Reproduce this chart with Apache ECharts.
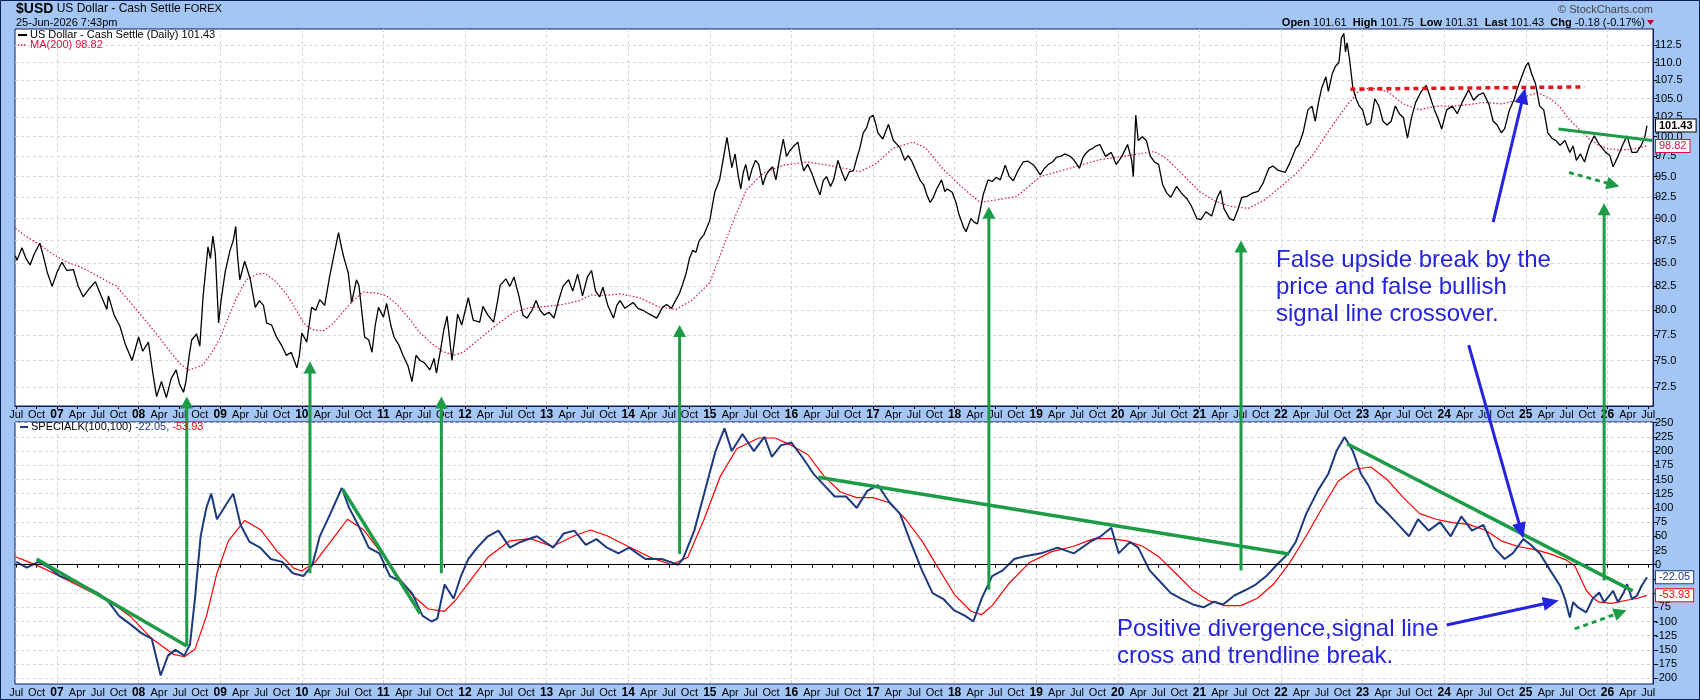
<!DOCTYPE html>
<html>
<head>
<meta charset="utf-8">
<script src="https://cdn.jsdelivr.net/npm/echarts@6/dist/echarts.min.js"></script>
<style>
html, body { margin: 0; padding: 0; background: #a3c6f5; }
#chart { width: 1700px; height: 700px; }
</style>
</head>
<body>
<div id="chart"></div>
<script>
// decimal year, value
const usdPrice = [
  [2006.49, 85.8], [2006.51, 85.3], [2006.57, 86.7], [2006.62, 85.5], [2006.67, 84.8], [2006.72, 86.0], [2006.79, 87.2],
  [2006.84, 85.5], [2006.88, 84.0], [2006.94, 82.5], [2007.00, 84.0], [2007.06, 85.1], [2007.12, 84.2], [2007.20, 84.3],
  [2007.26, 82.5], [2007.32, 81.4], [2007.40, 82.3], [2007.47, 83.0], [2007.54, 81.5], [2007.61, 80.1], [2007.63, 81.5],
  [2007.70, 79.5], [2007.77, 78.4], [2007.84, 76.5], [2007.92, 75.0], [2008.00, 77.3], [2008.05, 75.9], [2008.12, 76.8],
  [2008.17, 74.0], [2008.22, 71.6], [2008.28, 73.0], [2008.34, 71.5], [2008.40, 73.3], [2008.46, 74.1], [2008.50, 72.8],
  [2008.55, 72.0], [2008.58, 73.0], [2008.62, 75.5], [2008.65, 77.0], [2008.71, 77.6], [2008.75, 76.4], [2008.79, 81.4],
  [2008.85, 86.8], [2008.88, 85.5], [2008.91, 88.0], [2008.94, 86.0], [2008.98, 78.7], [2009.01, 81.0], [2009.06, 84.0],
  [2009.12, 86.4], [2009.16, 87.5], [2009.19, 89.1], [2009.21, 86.0], [2009.24, 83.2], [2009.30, 85.2], [2009.37, 83.2],
  [2009.43, 80.3], [2009.48, 81.0], [2009.53, 80.5], [2009.57, 78.7], [2009.63, 78.5], [2009.69, 77.3], [2009.75, 76.5],
  [2009.81, 75.5], [2009.87, 75.8], [2009.94, 74.3], [2009.97, 75.5], [2010.00, 77.7], [2010.06, 76.8], [2010.12, 80.3],
  [2010.17, 80.0], [2010.22, 81.1], [2010.28, 80.5], [2010.34, 83.5], [2010.39, 85.7], [2010.45, 88.4], [2010.48, 87.0],
  [2010.51, 85.8], [2010.57, 83.9], [2010.61, 80.8], [2010.67, 83.2], [2010.70, 82.6], [2010.74, 79.5], [2010.77, 77.3],
  [2010.82, 77.0], [2010.86, 75.8], [2010.90, 78.5], [2010.94, 80.3], [2011.00, 79.3], [2011.04, 80.7], [2011.09, 78.5],
  [2011.13, 77.3], [2011.19, 76.5], [2011.24, 75.5], [2011.30, 74.5], [2011.35, 73.0], [2011.40, 75.5], [2011.45, 75.0],
  [2011.50, 74.8], [2011.57, 74.1], [2011.62, 75.2], [2011.65, 73.8], [2011.70, 76.0], [2011.74, 78.0], [2011.78, 79.4],
  [2011.84, 75.0], [2011.88, 77.5], [2011.91, 79.6], [2011.96, 78.5], [2012.04, 81.3], [2012.10, 79.0], [2012.18, 78.8],
  [2012.22, 80.4], [2012.28, 79.5], [2012.35, 78.8], [2012.40, 81.0], [2012.43, 82.6], [2012.50, 83.3], [2012.55, 82.5],
  [2012.60, 83.5], [2012.66, 81.5], [2012.71, 79.5], [2012.76, 79.2], [2012.82, 80.0], [2012.87, 81.0], [2012.92, 80.0],
  [2012.97, 79.5], [2013.03, 79.8], [2013.09, 79.2], [2013.14, 80.8], [2013.20, 82.5], [2013.27, 83.2], [2013.32, 82.0],
  [2013.38, 83.8], [2013.44, 81.5], [2013.50, 83.5], [2013.55, 84.2], [2013.60, 82.0], [2013.65, 81.4], [2013.69, 82.4],
  [2013.75, 80.5], [2013.82, 79.2], [2013.86, 80.5], [2013.90, 81.0], [2013.96, 80.2], [2014.06, 80.8], [2014.12, 80.2],
  [2014.18, 80.0], [2014.26, 79.6], [2014.35, 79.2], [2014.42, 80.3], [2014.47, 80.6], [2014.53, 80.2], [2014.58, 81.0],
  [2014.63, 81.8], [2014.67, 82.8], [2014.71, 83.9], [2014.75, 85.5], [2014.79, 86.4], [2014.83, 86.2], [2014.87, 87.5],
  [2014.93, 88.2], [2015.00, 89.8], [2015.06, 93.1], [2015.12, 94.6], [2015.17, 97.5], [2015.21, 99.9], [2015.24, 98.0],
  [2015.27, 96.1], [2015.31, 97.8], [2015.35, 95.0], [2015.38, 93.5], [2015.41, 95.5], [2015.44, 96.5], [2015.48, 94.5],
  [2015.52, 96.0], [2015.56, 97.0], [2015.60, 96.5], [2015.65, 94.0], [2015.69, 95.2], [2015.73, 95.8], [2015.77, 96.2],
  [2015.81, 94.6], [2015.86, 97.5], [2015.90, 99.7], [2015.94, 97.5], [2015.98, 98.2], [2016.03, 98.8], [2016.08, 99.3],
  [2016.12, 97.0], [2016.15, 95.7], [2016.20, 96.5], [2016.25, 95.4], [2016.30, 94.0], [2016.35, 92.8], [2016.39, 94.5],
  [2016.43, 95.0], [2016.48, 93.8], [2016.52, 94.7], [2016.57, 97.0], [2016.62, 95.5], [2016.66, 94.5], [2016.71, 95.6],
  [2016.76, 95.7], [2016.80, 97.2], [2016.84, 98.6], [2016.88, 100.5], [2016.92, 101.1], [2016.96, 102.5], [2017.00, 102.8],
  [2017.03, 101.8], [2017.06, 100.5], [2017.12, 99.7], [2017.16, 100.8], [2017.19, 101.6], [2017.22, 100.5], [2017.25, 99.5],
  [2017.33, 98.6], [2017.39, 97.0], [2017.43, 97.6], [2017.47, 97.0], [2017.54, 95.4], [2017.58, 94.5], [2017.62, 94.0],
  [2017.66, 92.8], [2017.70, 91.9], [2017.74, 92.5], [2017.78, 93.5], [2017.84, 94.6], [2017.88, 93.2], [2017.91, 93.5],
  [2017.97, 93.1], [2018.02, 91.8], [2018.05, 90.6], [2018.11, 89.0], [2018.14, 88.5], [2018.20, 90.0], [2018.24, 89.6],
  [2018.28, 89.4], [2018.31, 90.8], [2018.35, 92.8], [2018.41, 94.6], [2018.46, 94.4], [2018.51, 94.9], [2018.56, 94.6],
  [2018.62, 96.4], [2018.67, 95.0], [2018.72, 94.5], [2018.78, 95.8], [2018.84, 96.8], [2018.90, 96.9], [2018.97, 96.4],
  [2019.05, 95.2], [2019.10, 96.0], [2019.15, 96.5], [2019.20, 96.8], [2019.25, 97.4], [2019.30, 97.5], [2019.35, 97.8],
  [2019.40, 97.6], [2019.45, 97.2], [2019.50, 96.5], [2019.53, 96.0], [2019.57, 97.3], [2019.61, 97.9], [2019.65, 98.3],
  [2019.69, 98.5], [2019.73, 98.8], [2019.78, 99.0], [2019.85, 97.5], [2019.92, 98.0], [2019.98, 96.5], [2020.05, 97.5],
  [2020.12, 99.0], [2020.17, 97.0], [2020.19, 95.0], [2020.22, 102.8], [2020.25, 99.5], [2020.30, 100.0], [2020.35, 99.5],
  [2020.40, 97.5], [2020.45, 96.8], [2020.50, 96.5], [2020.55, 94.0], [2020.60, 93.0], [2020.65, 92.5], [2020.72, 93.8],
  [2020.78, 93.0], [2020.85, 92.3], [2020.90, 91.5], [2020.97, 90.0], [2021.02, 89.9], [2021.08, 90.8], [2021.15, 90.3],
  [2021.22, 92.5], [2021.26, 93.3], [2021.30, 91.2], [2021.37, 90.0], [2021.42, 89.8], [2021.47, 91.0], [2021.52, 92.5],
  [2021.58, 92.6], [2021.65, 93.0], [2021.72, 93.2], [2021.78, 94.2], [2021.85, 96.0], [2021.90, 96.3], [2021.96, 95.8],
  [2022.05, 95.5], [2022.10, 96.5], [2022.18, 98.5], [2022.22, 99.0], [2022.27, 100.5], [2022.33, 103.5], [2022.38, 104.0],
  [2022.42, 102.0], [2022.46, 104.5], [2022.50, 106.5], [2022.55, 108.0], [2022.58, 106.0], [2022.63, 108.5], [2022.67, 109.5],
  [2022.71, 110.0], [2022.74, 113.5], [2022.77, 114.2], [2022.79, 111.5], [2022.81, 112.8], [2022.84, 110.5], [2022.88, 106.5],
  [2022.92, 105.0], [2022.96, 104.0], [2023.00, 103.5], [2023.05, 101.5], [2023.10, 101.8], [2023.15, 105.0], [2023.20, 104.0],
  [2023.25, 102.0], [2023.30, 101.5], [2023.35, 102.0], [2023.40, 104.0], [2023.45, 103.0], [2023.50, 102.5], [2023.55, 99.8],
  [2023.60, 102.5], [2023.65, 104.5], [2023.72, 106.0], [2023.78, 106.8], [2023.82, 105.5], [2023.88, 103.5], [2023.92, 102.5],
  [2023.97, 101.0], [2024.03, 103.5], [2024.10, 104.0], [2024.16, 103.0], [2024.22, 104.5], [2024.30, 106.2], [2024.36, 104.8],
  [2024.42, 105.5], [2024.48, 105.8], [2024.55, 104.2], [2024.60, 102.0], [2024.65, 101.5], [2024.70, 100.5], [2024.74, 101.0],
  [2024.80, 103.5], [2024.86, 105.0], [2024.90, 106.5], [2024.95, 108.0], [2025.00, 109.5], [2025.03, 110.0], [2025.07, 108.5],
  [2025.12, 107.0], [2025.17, 104.0], [2025.22, 103.5], [2025.27, 100.5], [2025.32, 99.8], [2025.37, 99.5], [2025.42, 98.9],
  [2025.48, 99.5], [2025.54, 98.0], [2025.58, 98.8], [2025.62, 97.0], [2025.67, 97.8], [2025.72, 96.8], [2025.78, 98.9],
  [2025.84, 100.1], [2025.90, 99.0], [2025.94, 98.5], [2025.98, 98.0], [2026.03, 97.6], [2026.07, 96.2], [2026.13, 97.5],
  [2026.19, 99.0], [2026.24, 100.1], [2026.30, 98.0], [2026.36, 98.0], [2026.42, 99.0], [2026.46, 100.0], [2026.485, 101.43]
];

const usdMa200 = [
  [2006.49, 88.9], [2006.60, 88.1], [2006.79, 87.0], [2006.95, 86.0], [2007.12, 85.1], [2007.28, 84.6], [2007.44, 83.9],
  [2007.60, 83.1], [2007.73, 82.5], [2007.88, 81.0], [2008.02, 79.6], [2008.14, 78.4], [2008.26, 77.2], [2008.40, 75.7],
  [2008.52, 74.6], [2008.61, 74.1], [2008.70, 74.3], [2008.79, 74.6], [2008.90, 75.8], [2009.00, 77.2], [2009.10, 79.3],
  [2009.20, 81.3], [2009.32, 83.2], [2009.45, 83.8], [2009.55, 83.9], [2009.68, 83.0], [2009.81, 81.7], [2009.92, 80.2],
  [2010.00, 79.0], [2010.06, 78.4], [2010.15, 78.0], [2010.26, 77.9], [2010.38, 78.6], [2010.51, 79.9], [2010.63, 81.0],
  [2010.75, 81.9], [2010.90, 81.8], [2011.04, 81.5], [2011.18, 80.5], [2011.33, 79.0], [2011.45, 77.7], [2011.57, 76.8],
  [2011.72, 75.9], [2011.86, 75.5], [2011.98, 75.8], [2012.10, 76.6], [2012.25, 77.6], [2012.43, 78.8], [2012.60, 79.8],
  [2012.80, 80.3], [2013.00, 80.4], [2013.20, 80.6], [2013.40, 81.0], [2013.55, 81.6], [2013.65, 81.5], [2013.78, 81.6],
  [2013.90, 81.7], [2014.14, 81.3], [2014.39, 80.3], [2014.59, 80.1], [2014.79, 81.1], [2015.00, 82.9], [2015.12, 85.7],
  [2015.29, 89.8], [2015.45, 93.4], [2015.65, 95.4], [2015.90, 96.4], [2016.19, 96.8], [2016.51, 96.3], [2016.84, 95.6],
  [2017.04, 96.6], [2017.24, 98.5], [2017.49, 99.3], [2017.64, 98.6], [2017.86, 95.9], [2018.07, 93.9], [2018.31, 91.9],
  [2018.52, 92.2], [2018.76, 92.6], [2019.05, 95.0], [2019.37, 95.9], [2019.78, 97.1], [2020.00, 97.4], [2020.25, 97.8],
  [2020.45, 98.1], [2020.60, 97.2], [2020.80, 95.2], [2021.00, 93.2], [2021.20, 92.0], [2021.40, 91.4], [2021.60, 91.2],
  [2021.80, 92.2], [2022.00, 93.8], [2022.20, 95.5], [2022.40, 97.8], [2022.60, 101.0], [2022.80, 104.0], [2022.95, 106.0],
  [2023.10, 106.5], [2023.30, 106.0], [2023.50, 104.3], [2023.70, 103.5], [2023.90, 104.0], [2024.10, 104.0], [2024.30, 104.2],
  [2024.50, 104.5], [2024.70, 104.3], [2024.90, 104.8], [2025.05, 105.5], [2025.15, 105.8], [2025.30, 105.0], [2025.42, 103.9],
  [2025.52, 102.4], [2025.64, 101.1], [2025.77, 99.8], [2025.88, 99.0], [2026.00, 98.5], [2026.15, 98.3], [2026.30, 98.4],
  [2026.485, 98.82]
];

const specialK = [
  [2006.50, 5], [2006.63, -5], [2006.77, 5], [2006.90, -5], [2007.03, -20], [2007.23, -30], [2007.50, -50], [2007.63, -65],
  [2007.76, -90], [2007.90, -105], [2008.03, -120], [2008.16, -130], [2008.27, -195], [2008.36, -160], [2008.45, -150],
  [2008.56, -160], [2008.63, -140], [2008.69, -60], [2008.76, 50], [2008.83, 100], [2008.89, 125], [2008.96, 80],
  [2009.09, 110], [2009.16, 125], [2009.25, 70], [2009.36, 40], [2009.49, 30], [2009.62, 10], [2009.76, 5], [2009.89, -15],
  [2010.02, -20], [2010.13, 0], [2010.22, 50], [2010.35, 90], [2010.49, 135], [2010.58, 100], [2010.69, 70], [2010.82, 30],
  [2010.95, 20], [2011.08, -20], [2011.22, -30], [2011.35, -50], [2011.48, -90], [2011.59, -100], [2011.66, -95],
  [2011.75, -35], [2011.86, -60], [2011.95, -20], [2012.04, 10], [2012.15, 30], [2012.28, 50], [2012.41, 60], [2012.55, 30],
  [2012.68, 40], [2012.88, 50], [2013.08, 30], [2013.21, 55], [2013.34, 60], [2013.48, 35], [2013.61, 45], [2013.74, 30],
  [2013.88, 20], [2014.01, 30], [2014.21, 10], [2014.41, 10], [2014.61, 0], [2014.67, 10], [2014.81, 60], [2014.94, 130],
  [2015.07, 200], [2015.18, 240], [2015.27, 200], [2015.40, 230], [2015.54, 200], [2015.67, 225], [2015.76, 190],
  [2015.87, 210], [2016.00, 215], [2016.13, 190], [2016.27, 160], [2016.40, 140], [2016.53, 120], [2016.67, 120],
  [2016.80, 100], [2016.93, 130], [2017.06, 140], [2017.20, 110], [2017.33, 90], [2017.46, 40], [2017.60, -10],
  [2017.73, -50], [2017.86, -60], [2017.99, -80], [2018.13, -90], [2018.23, -100], [2018.33, -60], [2018.46, -20],
  [2018.59, -10], [2018.73, 10], [2018.86, 15], [2019.06, 20], [2019.26, 30], [2019.46, 20], [2019.66, 40], [2019.79, 50],
  [2019.92, 65], [2020.01, 20], [2020.15, 40], [2020.25, 30], [2020.39, -10], [2020.52, -30], [2020.65, -50], [2020.78, -60],
  [2020.92, -70], [2021.05, -75], [2021.18, -65], [2021.29, -70], [2021.42, -55], [2021.56, -45], [2021.69, -35],
  [2021.82, -20], [2021.95, 0], [2022.09, 20], [2022.18, 40], [2022.31, 90], [2022.45, 130], [2022.58, 160], [2022.68, 200],
  [2022.78, 225], [2022.88, 200], [2022.98, 160], [2023.07, 140], [2023.17, 110], [2023.31, 90], [2023.44, 70], [2023.57, 50],
  [2023.68, 80], [2023.81, 60], [2023.95, 75], [2024.08, 50], [2024.21, 85], [2024.34, 60], [2024.48, 70], [2024.61, 30],
  [2024.74, 10], [2024.84, 20], [2024.97, 45], [2025.06, 35], [2025.17, 20], [2025.30, -10], [2025.42, -37], [2025.48, -60],
  [2025.54, -93], [2025.58, -66], [2025.64, -75], [2025.74, -84], [2025.82, -60], [2025.90, -49], [2025.96, -66],
  [2026.07, -46], [2026.13, -66], [2026.20, -49], [2026.24, -34], [2026.30, -60], [2026.36, -55], [2026.42, -37],
  [2026.485, -22.05]
];

const specialKSignal = [
  [2006.49, 14], [2006.65, 5], [2006.83, -6], [2007.00, -18], [2007.10, -25], [2007.36, -44], [2007.63, -63], [2007.90, -91],
  [2008.16, -130], [2008.43, -158], [2008.56, -162], [2008.69, -149], [2008.83, -91], [2008.96, -15], [2009.10, 42],
  [2009.30, 78], [2009.50, 61], [2009.70, 23], [2009.90, -6], [2010.00, -11], [2010.16, 4], [2010.36, 42], [2010.56, 80],
  [2010.76, 61], [2010.96, 23], [2011.15, -15], [2011.35, -53], [2011.55, -78], [2011.75, -82], [2011.88, -63],
  [2012.08, -25], [2012.28, 13], [2012.55, 42], [2012.80, 46], [2013.07, 32], [2013.34, 51], [2013.54, 61], [2013.74, 51],
  [2014.00, 32], [2014.27, 13], [2014.53, 0], [2014.73, 13], [2014.93, 80], [2015.13, 156], [2015.33, 204], [2015.60, 223],
  [2015.80, 223], [2016.00, 210], [2016.20, 194], [2016.40, 156], [2016.60, 128], [2016.80, 118], [2017.00, 118],
  [2017.20, 109], [2017.40, 80], [2017.60, 42], [2017.80, -6], [2018.00, -53], [2018.20, -82], [2018.33, -88],
  [2018.46, -72], [2018.66, -34], [2018.92, 4], [2019.19, 23], [2019.45, 32], [2019.71, 46], [2019.91, 46], [2020.11, 42],
  [2020.31, 32], [2020.51, 13], [2020.71, -15], [2020.91, -44], [2021.11, -63], [2021.31, -72], [2021.51, -72],
  [2021.71, -59], [2021.91, -34], [2022.11, 4], [2022.31, 51], [2022.50, 99], [2022.70, 147], [2022.90, 168], [2023.10, 172],
  [2023.30, 150], [2023.50, 118], [2023.70, 90], [2023.90, 80], [2024.10, 74], [2024.30, 71], [2024.50, 61], [2024.70, 42],
  [2024.90, 32], [2025.10, 27], [2025.30, 19], [2025.50, 8], [2025.60, -2], [2025.74, -45], [2025.82, -58], [2025.90, -66],
  [2026.05, -68], [2026.22, -63], [2026.37, -59], [2026.485, -53.93]
];

const priceTicks = [72.5, 75, 77.5, 80, 82.5, 85, 87.5, 90, 92.5, 95, 97.5, 100, 102.5, 105, 107.5, 110, 112.5];
const kTicks = [-200, -175, -150, -125, -100, -75, -50, -25, 0, 25, 50, 75, 100, 125, 150, 175, 200, 225, 250];
const kCoveredLabels = [-25, -50];
const quarterNames = ['', 'Apr', 'Jul', 'Oct'];
const header = { open: 101.61, high: 101.75, low: 101.31, last: 101.43, chg: -0.18, chgPct: -0.17 };

// annotations: [date, SpecialK value at foot, price at tip]
const upArrows = [
  [2008.59, -143, 71.6], [2010.10, -15, 74.9], [2011.71, -15, 71.6], [2014.63, 19, 78.5],
  [2018.42, -44, 91.4], [2021.51, -10, 87.5], [2025.96, -28, 91.8]
];
const kTrendLines = [
  [[2006.75, 10], [2008.59, -143]],
  [[2010.50, 133], [2011.45, -86]],
  [[2016.33, 154], [2022.10, 19]],
  [[2022.81, 213], [2026.31, -46]]
];
const kDottedArrow = [[2025.60, -113], [2026.16, -84]];
const kBlueArrow = [[2024.03, -106], [2025.31, -66]];
const priceResistance = [[2022.85, 106.3], [2025.72, 106.6]];
const priceTrendLine = [[2025.40, 101.0], [2026.55, 99.5]];
const priceDottedArrow = [[2025.53, 95.5], [2026.07, 94.0]];
const priceBlueArrow = [[2024.60, 89.6], [2024.97, 105.4]];
const crossBlueArrow = [[2024.30, 76.5], [2024.97, 46]]; // price panel -> SpecialK panel

const FONT = '"Liberation Sans", Arial, sans-serif';
const NAVY = '#0c1f5c';
const GREEN = '#1e9b47';
const BLUE = '#2323e0';
const KNAVY = '#1c3a7e';
const MARED = '#d8103f';

const quarterTicks = [];
for (let y = 2006; y <= 2026; y++) {
  for (let q = 0; q < 4; q++) {
    const t = y + q / 4;
    if (t >= 2006.5 && t <= 2026.5) quarterTicks.push(t);
  }
}
const yearTicks = quarterTicks.filter(t => t === Math.floor(t));

function quarterLabel(v) {
  const y = Math.floor(v + 1e-6);
  const q = Math.round((v - y) * 4);
  return q === 0 ? '{y|' + String(y).slice(2) + '}' : quarterNames[q];
}

const xMin = 2006.485, xMax = 2026.559;
const ln = v => Math.log(v);
const lnPair = ([t, v]) => [t, ln(v)];

function labelAxis(grid) {
  return {
    gridIndex: grid, type: 'value', min: xMin, max: xMax, position: 'bottom',
    axisLine: { show: true, lineStyle: { color: NAVY, width: 1 } },
    axisTick: { show: true, customValues: quarterTicks, length: 3, lineStyle: { color: '#000' } },
    axisLabel: {
      customValues: quarterTicks, formatter: quarterLabel, margin: 3,
      fontFamily: FONT, fontSize: 11, color: '#000',
      rich: { y: { fontFamily: FONT, fontSize: 12, fontWeight: 'bold', color: '#000' } }
    },
    splitLine: { show: false }
  };
}
function gridAxis(grid) {
  return {
    gridIndex: grid, type: 'value', min: xMin, max: xMax,
    axisLine: { show: false }, axisLabel: { show: false },
    axisTick: { show: false, customValues: yearTicks },
    splitLine: { show: true, lineStyle: { color: '#d4d4d4', type: [3, 3], width: 1 } }
  };
}

function seg(a, b, style, arrow, pairFn) {
  const f = pairFn || (p => p);
  const pa = f(a), pb = f(b);
  return [
    { coord: pa, lineStyle: style, symbol: 'none' },
    { coord: pb, symbol: arrow ? 'triangle' : 'none', symbolSize: arrow || 0 }
  ];
}

const lastPrice = usdPrice[usdPrice.length - 1][1];
const lastMa = usdMa200[usdMa200.length - 1][1];
const lastK = specialK[specialK.length - 1][1];
const lastSig = specialKSignal[specialKSignal.length - 1][1];

function boxLabel(text, color, bold) {
  return {
    show: true, formatter: () => text, distance: 9,
    fontFamily: FONT, fontSize: 11, fontWeight: bold ? 'bold' : 'normal', color: color,
    backgroundColor: '#fff', borderColor: color, borderWidth: 1, padding: [1, 3, 0, 3]
  };
}

const chart = echarts.init(document.getElementById('chart'));
chart.setOption({
  animation: false,
  backgroundColor: '#a3c6f5',
  grid: [
    { left: 15, right: 47, top: 29, height: 377, show: true, backgroundColor: '#fff', borderColor: NAVY, borderWidth: 1 },
    { left: 15, right: 47, top: 422, height: 262, show: true, backgroundColor: '#fff', borderColor: NAVY, borderWidth: 1 }
  ],
  xAxis: [labelAxis(0), gridAxis(0), labelAxis(1), gridAxis(1)],
  yAxis: [
    {
      gridIndex: 0, type: 'value', position: 'right', min: ln(70.74), max: ln(114.84),
      axisLine: { show: true, lineStyle: { color: NAVY } },
      axisTick: { show: true, customValues: priceTicks.map(ln), length: 4, lineStyle: { color: '#000' } },
      axisLabel: {
        customValues: priceTicks.map(ln), formatter: v => Math.exp(v).toFixed(1), margin: 2,
        fontFamily: FONT, fontSize: 11, color: '#000'
      },
      splitLine: { show: true, lineStyle: { color: '#d4d4d4', type: [3, 3] } }
    },
    {
      gridIndex: 1, type: 'value', position: 'right', min: -210, max: 251.2,
      axisLine: { show: true, lineStyle: { color: NAVY } },
      axisTick: { show: true, customValues: kTicks, length: 4, lineStyle: { color: '#000' } },
      axisLabel: {
        customValues: kTicks.filter(v => kCoveredLabels.indexOf(v) < 0), margin: 2,
        fontFamily: FONT, fontSize: 11, color: '#000'
      },
      splitLine: { show: true, lineStyle: { color: '#d4d4d4', type: [3, 3] } }
    }
  ],
  series: [
    {
      name: 'MA(200)', type: 'line', xAxisIndex: 0, yAxisIndex: 0, data: usdMa200.map(lnPair),
      showSymbol: false, symbol: 'none', z: 3,
      lineStyle: { color: MARED, width: 1.2, type: [1.5, 2] },
      endLabel: boxLabel(lastMa.toFixed(2), MARED, false)
    },
    {
      name: 'US Dollar', type: 'line', xAxisIndex: 0, yAxisIndex: 0, data: usdPrice.map(lnPair),
      showSymbol: false, symbol: 'none', z: 4,
      lineStyle: { color: '#000', width: 1.3 },
      endLabel: boxLabel(lastPrice.toFixed(2), '#000', true),
      markLine: {
        silent: true, symbol: ['none', 'none'], label: { show: false }, z: 6,
        data: [
          seg(priceResistance[0], priceResistance[1], { color: '#e8141c', width: 3.5, type: [5, 4] }, 0, lnPair),
          seg(priceTrendLine[0], priceTrendLine[1], { color: GREEN, width: 3, type: 'solid' }, 0, lnPair),
          seg(priceDottedArrow[0], priceDottedArrow[1], { color: GREEN, width: 3, type: [5, 4] }, [13, 13], lnPair),
          seg(priceBlueArrow[0], priceBlueArrow[1], { color: BLUE, width: 3, type: 'solid' }, [14, 16], lnPair)
        ]
      }
    },
    {
      name: 'Signal', type: 'line', xAxisIndex: 2, yAxisIndex: 1, data: specialKSignal,
      showSymbol: false, symbol: 'none', z: 3,
      lineStyle: { color: '#ff0000', width: 1.2 },
      endLabel: boxLabel(lastSig.toFixed(2), '#ff0000', false)
    },
    {
      name: 'SPECIALK', type: 'line', xAxisIndex: 2, yAxisIndex: 1, data: specialK,
      showSymbol: false, symbol: 'none', z: 4,
      lineStyle: { color: KNAVY, width: 2 },
      endLabel: boxLabel(lastK.toFixed(2), KNAVY, false),
      markLine: {
        silent: true, symbol: ['none', 'none'], label: { show: false }, z: 6,
        data: [
          [{ coord: [xMin, 0], lineStyle: { color: '#000', width: 1, type: 'solid' } }, { coord: [xMax, 0] }]
        ].concat(
          kTrendLines.map(l => seg(l[0], l[1], { color: GREEN, width: 3.5, type: 'solid' }, 0)),
          [seg(kDottedArrow[0], kDottedArrow[1], { color: GREEN, width: 3, type: [5, 4] }, [13, 13])],
          [seg(kBlueArrow[0], kBlueArrow[1], { color: BLUE, width: 3, type: 'solid' }, [14, 16])]
        )
      }
    }
  ]
});

// arrows that run across both panels
function arrowShapes(x1, y1, x2, y2, color, head) {
  const dx = x2 - x1, dy = y2 - y1, len = Math.sqrt(dx * dx + dy * dy);
  const ux = dx / len, uy = dy / len;
  const bx = x2 - ux * head[1], by = y2 - uy * head[1];
  const px = -uy * head[0] / 2, py = ux * head[0] / 2;
  return [
    { type: 'line', z: 50, shape: { x1: x1, y1: y1, x2: bx + ux, y2: by + uy }, style: { stroke: color, lineWidth: 3 } },
    { type: 'polygon', z: 50, shape: { points: [[x2, y2], [bx + px, by + py], [bx - px, by - py]] }, style: { fill: color } }
  ];
}
const xPix = t => chart.convertToPixel({ xAxisIndex: 0 }, t);
const pPix = v => chart.convertToPixel({ yAxisIndex: 0 }, ln(v));
const kPix = v => chart.convertToPixel({ yAxisIndex: 1 }, v);

let graphics = [];
upArrows.forEach(([t, kFrom, pTo]) => {
  const x = xPix(t);
  graphics = graphics.concat(arrowShapes(x, kPix(kFrom), x, pPix(pTo), GREEN, [13, 12]));
});
graphics = graphics.concat(arrowShapes(
  xPix(crossBlueArrow[0][0]), pPix(crossBlueArrow[0][1]),
  xPix(crossBlueArrow[1][0]), kPix(crossBlueArrow[1][1]), BLUE, [14, 16]));

const txt = (x, y, text, font, fill, align) => ({
  type: 'text', x: x, y: y, z: 60,
  style: { text: text, font: font, fill: fill, verticalAlign: 'middle', align: align || 'left' }
});

graphics.push(
  { type: 'rect', z: 0, shape: { x: 0.5, y: 0.5, width: 1699, height: 699 }, style: { fill: 'none', stroke: NAVY, lineWidth: 1 } },
  {
    type: 'text', x: 16, y: 9, z: 60,
    style: {
      text: '{b|$USD} {n|US Dollar - Cash Settle} {s|FOREX}', verticalAlign: 'middle',
      rich: {
        b: { font: 'bold 14px ' + FONT, fill: '#000' },
        n: { font: '12px ' + FONT, fill: '#000' },
        s: { font: '11px ' + FONT, fill: '#000' }
      }
    }
  },
  txt(16, 23, '25-Jun-2026 7:43pm', '11px ' + FONT, '#000'),
  txt(1653, 10, '\u00a9 StockCharts.com', '11px ' + FONT, '#444', 'right'),
  {
    type: 'text', x: 1645, y: 23, z: 60,
    style: {
      text: '{b|Open} ' + header.open + '  {b|High} ' + header.high + '  {b|Low} ' + header.low +
        '  {b|Last} ' + header.last + '  {b|Chg} ' + header.chg.toFixed(2) + ' (' + header.chgPct.toFixed(2) + '%)',
      font: '11px ' + FONT, fill: '#000', align: 'right', verticalAlign: 'middle',
      rich: { b: { font: 'bold 11px ' + FONT, fill: '#000' } }
    }
  },
  { type: 'polygon', z: 60, shape: { points: [[1647, 20], [1654, 20], [1650.5, 25]] }, style: { fill: '#b00020' } },
  { type: 'rect', z: 60, shape: { x: 18, y: 34, width: 9, height: 2 }, style: { fill: '#000' } },
  txt(30, 35, 'US Dollar - Cash Settle (Daily) ' + lastPrice.toFixed(2), '11px ' + FONT, '#000'),
  { type: 'line', z: 60, shape: { x1: 18, y1: 45, x2: 27, y2: 45 }, style: { stroke: MARED, lineWidth: 1.5, lineDash: [1.5, 1.5] } },
  txt(30, 45, 'MA(200) ' + lastMa.toFixed(2), '11px ' + FONT, MARED),
  { type: 'rect', z: 60, shape: { x: 20, y: 426, width: 8, height: 2 }, style: { fill: KNAVY } },
  {
    type: 'text', x: 31, y: 427, z: 60,
    style: {
      text: 'SPECIALK(100,100) {n|' + lastK.toFixed(2) + ',} {r|' + lastSig.toFixed(2) + '}',
      font: '11px ' + FONT, fill: '#000', verticalAlign: 'middle',
      rich: { n: { font: '11px ' + FONT, fill: KNAVY }, r: { font: '11px ' + FONT, fill: '#ff0000' } }
    }
  },
  txt(1276, 260, 'False upside break by the', '24px ' + FONT, BLUE),
  txt(1276, 287, 'price and false bullish', '24px ' + FONT, BLUE),
  txt(1276, 314, 'signal line crossover.', '24px ' + FONT, BLUE),
  txt(1117, 629, 'Positive divergence,signal line', '24px ' + FONT, BLUE),
  txt(1117, 656, 'cross and trendline break.', '24px ' + FONT, BLUE)
);
chart.setOption({ graphic: graphics });
</script>
</body>
</html>
